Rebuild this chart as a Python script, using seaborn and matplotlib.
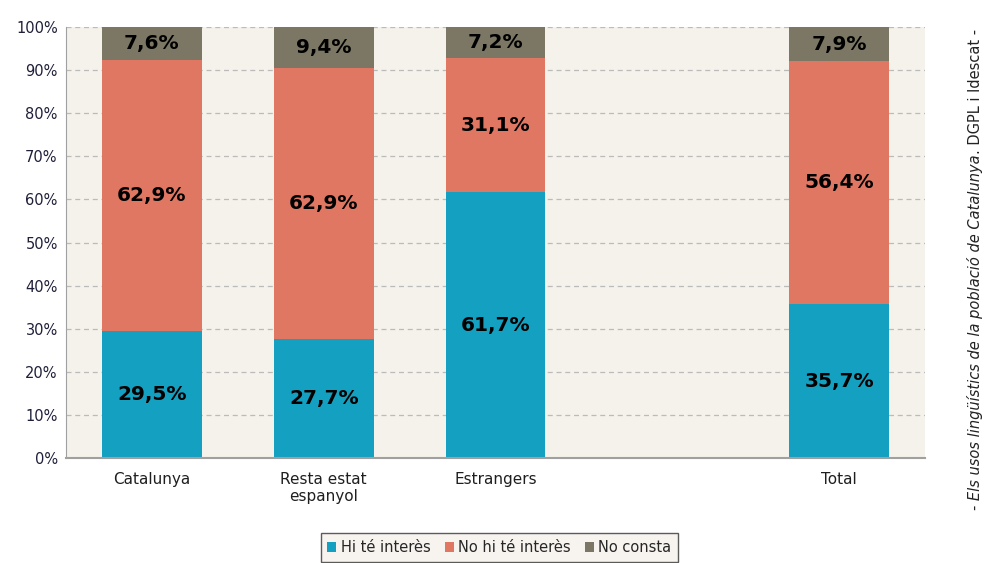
import numpy as np
import pandas as pd
import seaborn as sns
from matplotlib import pyplot as plt

categories = ["Catalunya", "Resta estat\nespanyol", "Estrangers", " ", "Total"]
hi_te = [29.5, 27.7, 61.7, np.nan, 35.7]
no_hi_te = [62.9, 62.9, 31.1, np.nan, 56.4]
no_consta = [7.6, 9.4, 7.2, np.nan, 7.9]

series_names = ["Hi té interès", "No hi té interès", "No consta"]
colors = ["#14A0C0", "#E07763", "#7B7764"]

df = pd.DataFrame(
    {"cat": categories, "Hi té interès": hi_te, "No hi té interès": no_hi_te, "No consta": no_consta}
)

sns.set_style("white")
plt.rcParams["font.family"] = ["DejaVu Sans"]

fig = plt.figure(figsize=(9.87, 5.63), dpi=100)
ax = fig.add_axes([0.0669, 0.1865, 0.8703, 0.7655])
ax.set_facecolor("#F5F1EB")

# stacked bars: draw cumulative totals from top series down
cum = df[series_names].cumsum(axis=1)
for name, col in reversed(list(zip(series_names, colors))):
    sns.barplot(x=df["cat"], y=cum[name], order=categories, color=col,
                width=0.58, ax=ax, label=name, saturation=1, linewidth=0)

# segment labels
for i, cat in enumerate(categories):
    base = 0
    for name in series_names:
        v = df[name].iloc[i]
        if np.isnan(v):
            continue
        ax.text(i, base + v / 2, f"{v:.1f}%".replace(".", ","), ha="center", va="center",
                fontsize=14.5, fontweight="bold", color="black")
        base += v

ax.set_ylim(0, 100)
ax.set_xlim(-0.5, len(categories) - 0.5)
ax.set_yticks(np.arange(0, 101, 10))
ax.set_yticklabels([f"{t}%" for t in range(0, 101, 10)], fontsize=10.5, color="#1F1F3A")
ax.tick_params(axis="x", labelsize=11, length=0, pad=10, colors="#1F1F1F")
ax.tick_params(axis="y", length=0, pad=6)
ax.set_xlabel("")
ax.set_ylabel("")
ax.yaxis.grid(True, color="#BBBBBB", linestyle=(0, (4, 3)), linewidth=0.9)
ax.set_axisbelow(True)
for s in ["top", "right"]:
    ax.spines[s].set_visible(False)
ax.spines["left"].set_color("#A0A0A0")
ax.spines["bottom"].set_color("#A0A0A0")
ax.spines["bottom"].set_linewidth(1.5)

handles, labels = ax.get_legend_handles_labels()
if ax.get_legend() is not None:
    ax.get_legend().remove()
order = [labels.index(n) for n in series_names]
leg = fig.legend([handles[k] for k in order], series_names, loc="center",
                 bbox_to_anchor=(0.506, 0.0275), ncol=3, fontsize=10.5, frameon=True,
                 handlelength=0.6, handleheight=0.6, handletextpad=0.3, columnspacing=1.0,
                 fancybox=False, borderpad=0.45)
leg.get_frame().set_facecolor("#F5F1EB")
leg.get_frame().set_edgecolor("#333333")
leg.get_frame().set_linewidth(1.0)

# source note, italic title part then plain part, reading bottom to top
t1 = fig.text(0.988, 0.095, "- Els usos lingüístics de la població de Catalunya",
              rotation=90, ha="center", va="bottom", fontsize=10.5, color="#222222",
              style="italic")
fig.canvas.draw()
bb = t1.get_window_extent()
y2 = bb.y1 / fig.bbox.height
fig.text(0.988, y2, ". DGPL i Idescat -", rotation=90, ha="center", va="bottom",
         fontsize=10.5, color="#222222")

fig.savefig("out.png", dpi=100)
